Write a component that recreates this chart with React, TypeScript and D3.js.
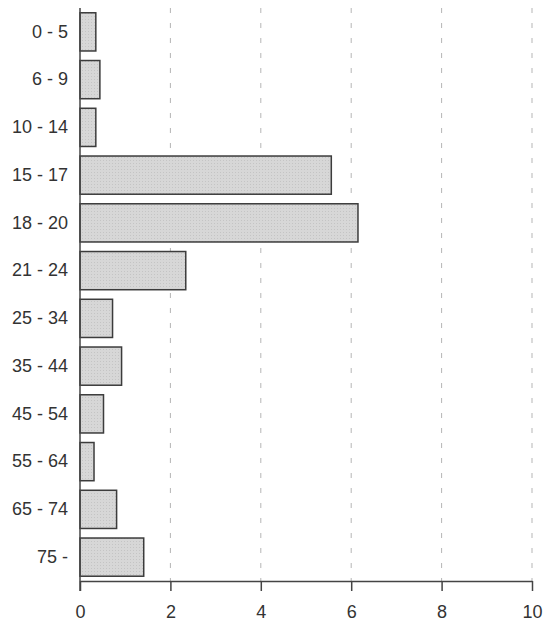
import * as d3 from "d3";
import { useEffect, useRef } from "react";

/* ------------------------------------------------------------------ */
/*  Data                                                               */
/* ------------------------------------------------------------------ */

const AGE_GROUPS = [
  "0 - 5",
  "6 - 9",
  "10 - 14",
  "15 - 17",
  "18 - 20",
  "21 - 24",
  "25 - 34",
  "35 - 44",
  "45 - 54",
  "55 - 64",
  "65 - 74",
  "75 -",
];

const VALUES = [0.35, 0.44, 0.35, 5.56, 6.15, 2.34, 0.72, 0.92, 0.52, 0.31, 0.81, 1.41];

const X_TICKS = [0, 2, 4, 6, 8, 10];

/* ------------------------------------------------------------------ */
/*  Theme                                                              */
/* ------------------------------------------------------------------ */

const W = 555;
const H = 624;
const FONT = "'Liberation Sans', Arial, sans-serif";
const TEXT = "#333";
const AXIS = "#444";
const GRID = "#b5b5b5";
const BAR_FILL = "#d7d7d7";
const BAR_STROKE = "#3c3c3c";

export default function App() {
  const svgRef = useRef<SVGSVGElement>(null);

  useEffect(() => {
    const svg = svgRef.current;
    if (!svg) return;

    const left = 80;
    const right = 532;
    const top = 8;
    const bottom = 581;

    const x = d3.scaleLinear().domain([0, 10]).range([left, right]);
    const y = d3
      .scaleBand<string>()
      .domain(AGE_GROUPS)
      .range([top, bottom])
      .paddingInner(0.2)
      .paddingOuter(0.1);

    const sel = d3.select(svg);
    sel.selectAll("*").remove();

    /* stipple pattern for bars */
    const defs = sel.append("defs");
    const pat = defs
      .append("pattern")
      .attr("id", "stipple")
      .attr("width", 3)
      .attr("height", 3)
      .attr("patternUnits", "userSpaceOnUse");
    pat.append("rect").attr("width", 3).attr("height", 3).attr("fill", BAR_FILL);
    pat.append("rect").attr("x", 1).attr("y", 1).attr("width", 1).attr("height", 1).attr("fill", "#c4c4c4");

    /* dashed gridlines */
    sel
      .append("g")
      .selectAll("line")
      .data(X_TICKS.filter((t) => t > 0))
      .join("line")
      .attr("x1", (d) => x(d))
      .attr("x2", (d) => x(d))
      .attr("y1", top)
      .attr("y2", bottom)
      .attr("stroke", GRID)
      .attr("stroke-width", 1)
      .attr("stroke-dasharray", "5 10");

    /* bars */
    sel
      .append("g")
      .selectAll("rect")
      .data(VALUES)
      .join("rect")
      .attr("x", x(0))
      .attr("y", (_, i) => y(AGE_GROUPS[i])!)
      .attr("width", (d) => x(d) - x(0))
      .attr("height", y.bandwidth())
      .attr("fill", "url(#stipple)")
      .attr("stroke", BAR_STROKE)
      .attr("stroke-width", 1.5);

    /* x axis */
    sel
      .append("g")
      .attr("transform", `translate(0,${bottom})`)
      .call(d3.axisBottom(x).tickValues(X_TICKS).tickSize(10).tickSizeOuter(0).tickPadding(14))
      .call((g) => g.select(".domain").attr("stroke", AXIS).attr("stroke-width", 1.5))
      .call((g) => g.selectAll(".tick line").attr("stroke", AXIS).attr("stroke-width", 1.5))
      .call((g) =>
        g
          .selectAll(".tick text")
          .attr("fill", TEXT)
          .attr("font-size", "18px")
          .attr("font-family", FONT),
      );

    /* y axis */
    sel
      .append("g")
      .attr("transform", `translate(${left},0)`)
      .call(d3.axisLeft(y).tickSize(0).tickPadding(12))
      .call((g) => g.select(".domain").remove())
      .call((g) =>
        g
          .selectAll(".tick text")
          .attr("fill", TEXT)
          .attr("font-size", "18px")
          .attr("font-family", FONT),
      );

    sel
      .append("line")
      .attr("x1", left)
      .attr("x2", left)
      .attr("y1", top)
      .attr("y2", bottom + 10)
      .attr("stroke", AXIS)
      .attr("stroke-width", 1.5);
  }, []);

  return (
    <svg
      ref={svgRef}
      width={W}
      height={H}
      style={{ position: "absolute", left: 0, top: 0, background: "#fff" }}
    />
  );
}
